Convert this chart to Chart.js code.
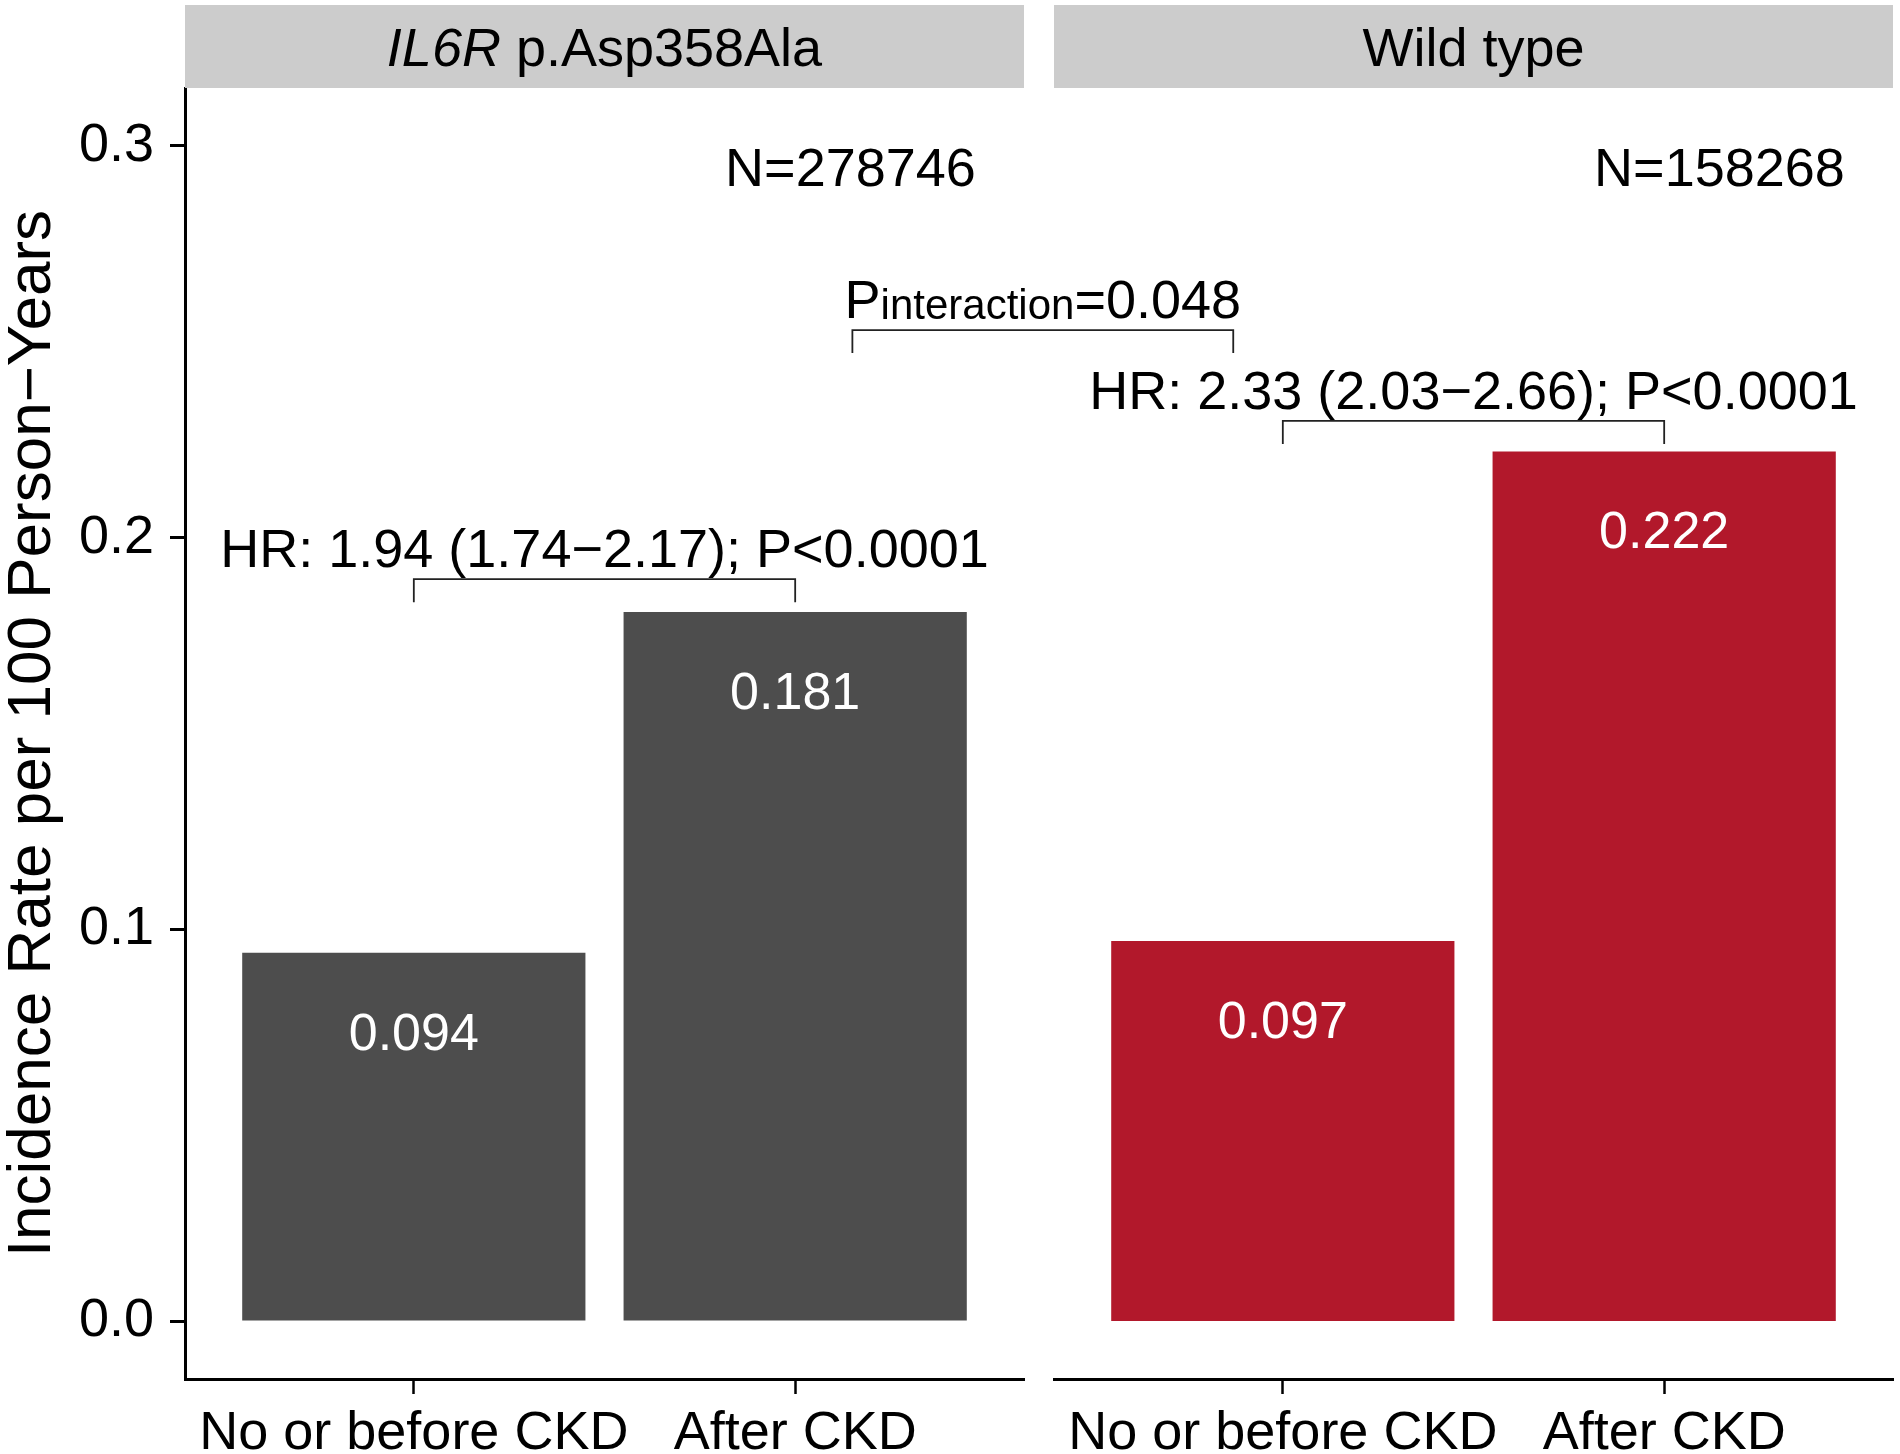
<!DOCTYPE html>
<html>
<head>
<meta charset="utf-8">
<script src="https://cdn.jsdelivr.net/npm/chart.js@4/dist/chart.umd.min.js"></script>
<style>
html,body{margin:0;padding:0;background:#fff;}
#wrap{position:relative;width:1900px;height:1454px;background:#fff;}
canvas{position:absolute;left:0;top:0;}
</style>
</head>
<body>
<div id="wrap">
<canvas id="c1" width="1900" height="1454"></canvas>
<canvas id="c2" width="1900" height="1454"></canvas>
</div>
<script>
// ---- data ----
const panelItalic = ["IL6R", ""];
const panelTitles = [" p.Asp358Ala", "Wild type"];
const categories = ["No or before CKD", "After CKD"];
const variantRates = [0.094, 0.181];
const wildTypeRates = [0.097, 0.222];
const sampleSizes = ["N=278746", "N=158268"];
const hrLabels = ["HR: 1.94 (1.74\u22122.17); P<0.0001", "HR: 2.33 (2.03\u22122.66); P<0.0001"];
const interactionP = "0.048";
const yTicks = [0.0, 0.1, 0.2, 0.3];
const yTitle = "Incidence Rate per 100 Person\u2212Years";
const barColors = ["#4D4D4D", "#B2182B"];

// ---- style ----
const FONT = '"Liberation Sans", Arial, Helvetica, sans-serif';
Chart.defaults.font.family = FONT;
Chart.defaults.color = '#000';
const FS = 54;

let leftChart = null;

function annotPlugin(panel) {
  return {
    id: 'annot' + panel,
    afterDraw(chart) {
      const ctx = chart.ctx;
      const ca = chart.chartArea;
      const xs = chart.scales.x, ys = chart.scales.y;
      ctx.save();
      // strip
      ctx.fillStyle = '#CCCCCC';
      ctx.fillRect(ca.left, 5, ca.right - ca.left, ca.top - 5);
      ctx.fillStyle = '#000';
      ctx.textBaseline = 'alphabetic';
      const cx = (ca.left + ca.right) / 2;
      ctx.font = 'italic ' + FS + 'px ' + FONT;
      const wi = ctx.measureText(panelItalic[panel]).width;
      ctx.font = FS + 'px ' + FONT;
      const wn = ctx.measureText(panelTitles[panel]).width;
      let sx = cx - (wi + wn) / 2;
      ctx.textAlign = 'left';
      ctx.font = 'italic ' + FS + 'px ' + FONT;
      ctx.fillText(panelItalic[panel], sx, 66);
      ctx.font = FS + 'px ' + FONT;
      ctx.fillText(panelTitles[panel], sx + wi, 66);

      // bar value labels
      const meta = chart.getDatasetMeta(0);
      const vals = panel === 0 ? variantRates : wildTypeRates;
      ctx.fillStyle = '#FFFFFF';
      ctx.textAlign = 'center';
      ctx.font = '52px ' + FONT;
      meta.data.forEach((el, i) => {
        ctx.fillText(vals[i].toFixed(3), el.x, el.y + 97);
      });

      // N label
      ctx.fillStyle = '#000';
      ctx.font = FS + 'px ' + FONT;
      ctx.fillText(sampleSizes[panel], xs.getPixelForValue(2.145), ys.getPixelForValue(0.3) + 40);

      // HR bracket
      const by = panel === 0 ? 0.1894 : 0.2298;
      const x1 = xs.getPixelForValue(1), x2 = xs.getPixelForValue(2);
      const yb = ys.getPixelForValue(by);
      const drop = 23;
      ctx.strokeStyle = '#222';
      ctx.lineWidth = 1.8;
      ctx.beginPath();
      ctx.moveTo(x1, yb + drop); ctx.lineTo(x1, yb); ctx.lineTo(x2, yb); ctx.lineTo(x2, yb + drop);
      ctx.stroke();
      ctx.fillText(hrLabels[panel], (x1 + x2) / 2, yb - 12);

      // interaction bracket (drawn once, spanning both panels)
      if (panel === 1 && leftChart) {
        const lx = leftChart.scales.x.getPixelForValue(2.15);
        const rx = xs.getPixelForValue(0.87);
        const iy = ys.getPixelForValue(0.253);
        ctx.beginPath();
        ctx.moveTo(lx, iy + drop); ctx.lineTo(lx, iy); ctx.lineTo(rx, iy); ctx.lineTo(rx, iy + drop);
        ctx.stroke();
        ctx.textAlign = 'left';
        ctx.font = FS + 'px ' + FONT;
        const wP = ctx.measureText('P').width;
        const wEq = ctx.measureText('=' + interactionP).width;
        ctx.font = '42px ' + FONT;
        const wSub = ctx.measureText('interaction').width;
        let tx = (lx + rx) / 2 - (wP + wSub + wEq) / 2;
        const ty = iy - 12;
        ctx.font = FS + 'px ' + FONT;
        ctx.fillText('P', tx, ty);
        ctx.font = '42px ' + FONT;
        ctx.fillText('interaction', tx + wP, ty + 1);
        ctx.font = FS + 'px ' + FONT;
        ctx.fillText('=' + interactionP, tx + wP + wSub, ty);
      }

      // y axis title
      if (panel === 0) {
        ctx.save();
        ctx.translate(50, (ca.top + ca.bottom) / 2);
        ctx.rotate(-Math.PI / 2);
        ctx.textAlign = 'center';
        ctx.font = '62px ' + FONT;
        ctx.fillText(yTitle, 0, 0);
        ctx.restore();
      }
      ctx.restore();
    }
  };
}

function makeChart(id, panel, rates) {
  const isLeft = panel === 0;
  return new Chart(document.getElementById(id), {
    type: 'bar',
    data: {
      datasets: [{
        data: rates.map((v, i) => ({ x: i + 1, y: v })),
        backgroundColor: barColors[panel],
        borderWidth: 0,
        barPercentage: 0.9,
        categoryPercentage: 1.0
      }]
    },
    options: {
      responsive: false,
      animation: false,
      events: [],
      devicePixelRatio: 1,
      layout: { padding: isLeft ? { left: 0, top: 88, right: 876, bottom: 0 } : { left: 1054, top: 88, right: 7, bottom: 0 } },
      plugins: { legend: { display: false }, tooltip: { enabled: false } },
      scales: {
        x: {
          type: 'linear', min: 0.4, max: 2.6, offset: false,
          grid: { display: true, drawOnChartArea: false, drawTicks: true, tickLength: 15, tickWidth: 2.5, tickColor: '#000', offset: false },
          border: { display: true, color: '#000', width: 3 },
          afterBuildTicks: s => { s.ticks = categories.map((c, i) => ({ value: i + 1 })); },
          afterFit: s => { s.height = 75; },
          ticks: { font: { size: FS }, color: '#000', padding: 8, maxRotation: 0, minRotation: 0, autoSkip: false,
                   callback: v => categories[Math.round(v) - 1] }
        },
        y: {
          type: 'linear', min: -0.0148, max: 0.3148, display: isLeft,
          grid: { display: true, drawOnChartArea: false, drawTicks: true, tickLength: 15, tickWidth: 3, tickColor: '#000' },
          border: { display: true, color: '#000', width: 3 },
          afterBuildTicks: s => { s.ticks = yTicks.map(v => ({ value: v })); },
          afterFit: s => { s.width = isLeft ? 185 : 0; },
          ticks: { font: { size: FS }, color: '#000', padding: 16, callback: v => Number(v).toFixed(1) }
        }
      }
    },
    plugins: [annotPlugin(panel)]
  });
}

leftChart = makeChart('c1', 0, variantRates);
makeChart('c2', 1, wildTypeRates);
</script>
</body>
</html>
